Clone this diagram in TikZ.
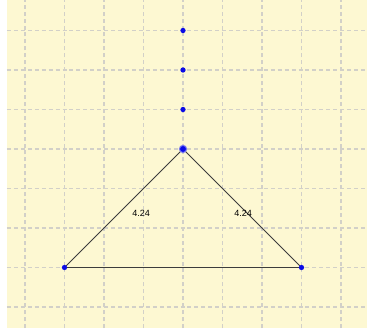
\documentclass[tikz,border=0pt]{standalone}
\usepackage{fontspec}
\setsansfont{Liberation Sans}
\usetikzlibrary{positioning}
\definecolor{paper}{HTML}{FDF8D2}
\definecolor{gridgray}{HTML}{D2D0C8}
\definecolor{ptblue}{HTML}{0A0AE6}
\definecolor{edgegray}{HTML}{3C3C3C}
\tikzset{
  gridline/.style={
    draw=gridgray, line width=1.05pt, dash pattern=on 2.9pt off 2.1pt
  },
  ptdot/.style={
    circle, fill=ptblue, inner sep=0pt, minimum size=#1
  },
  ptdot/.default=3.8pt,
  edgeline/.style={
    draw=edgegray, line width=0.65pt
  },
  lenlabel/.style={
    font=\sffamily\fontsize{6.5}{7}\selectfont, text=black, inner sep=1pt
  },
}

\begin{document}
\begin{tikzpicture}
  \useasboundingbox (-0.633,-0.532) rectangle (8.658,7.772);
  % Paper
  \fill[paper] (-0.456,-0.532) rectangle (8.658,7.772);

  % Grid
  \foreach \gx in {0,...,8}
    \draw[gridline] (\gx,-0.532) -- (\gx,7.772);
  \foreach \gy in {0,...,7}
    \draw[gridline] (-0.456,\gy) -- (8.658,\gy);

  % Triangle
  \coordinate (left) at (1,1);
  \coordinate (apex) at (4,4);
  \coordinate (right) at (7,1);
  \draw[edgeline] (left) -- (apex) -- (right) -- (left);

  % Points
  \node[ptdot] (pl) at (left) {};
  \node[ptdot] (pr) at (right) {};
  \node[ptdot=6pt, fill=ptblue!55] (pa) at (apex) {};
  \node[ptdot=4.2pt] at (apex) {};
  \node[ptdot] (d1) at (4,5) {};
  \node[ptdot] (d2) at (4,6) {};
  \node[ptdot] (d3) at (4,7) {};

  % Lengths
  \node[lenlabel] (lenl) at (2.94,2.38) {4.24};
  \node[lenlabel] (lenr) at (5.52,2.38) {4.24};
\end{tikzpicture}
\end{document}
